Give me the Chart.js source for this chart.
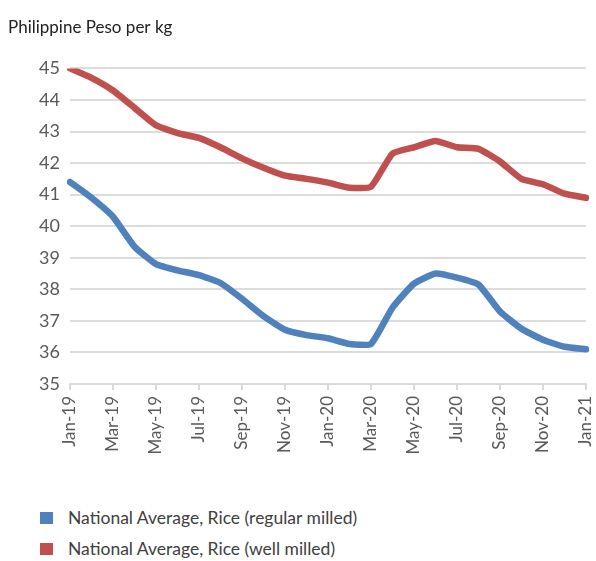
<!DOCTYPE html>
<html>
<head>
<meta charset="utf-8">
<script src="https://cdn.jsdelivr.net/npm/chart.js@4/dist/chart.umd.min.js"></script>
<style>
html,body{margin:0;padding:0;background:#fff;}
#wrap{position:relative;width:596px;height:561px;overflow:hidden;}
#chart{position:absolute;left:0;top:0;}
#legend{position:absolute;left:40px;top:502px;font-family:Lato,"Open Sans",sans-serif;font-size:17.5px;color:#404040;}
#legend div{height:31px;display:flex;align-items:center;}
#legend span.box{display:inline-block;width:13px;height:12px;margin-right:15px;}
</style>
</head>
<body>
<div id="wrap">
<canvas id="chart" width="596" height="480"></canvas>
<div id="legend"></div>
</div>
<script>
// monthly retail prices, Jan 2019 - Jan 2021
var months = ["Jan-19","Feb-19","Mar-19","Apr-19","May-19","Jun-19","Jul-19","Aug-19","Sep-19","Oct-19","Nov-19","Dec-19",
"Jan-20","Feb-20","Mar-20","Apr-20","May-20","Jun-20","Jul-20","Aug-20","Sep-20","Oct-20","Nov-20","Dec-20","Jan-21"];

var regularMilled = [41.4,40.9,40.3,39.35,38.8,38.6,38.45,38.2,37.7,37.15,36.72,36.55,
36.45,36.27,36.27,37.42,38.18,38.5,38.37,38.15,37.3,36.75,36.4,36.18,36.1];

var wellMilled = [45.0,44.7,44.3,43.75,43.2,42.95,42.8,42.5,42.15,41.85,41.6,41.5,
41.38,41.22,41.25,42.3,42.5,42.7,42.5,42.45,42.05,41.5,41.33,41.03,40.9];

var seriesNames = ["National Average, Rice (regular milled)","National Average, Rice (well milled)"];
var seriesColors = ["#4F81BD","#C0504D"];

var yMin = 35, yMax = 45;

var font = "Lato, 'Open Sans', sans-serif";

var chart = new Chart(document.getElementById("chart"),{
type:"line",
data:{
labels:months,
datasets:[
{label:seriesNames[0],data:regularMilled,borderColor:seriesColors[0],backgroundColor:seriesColors[0]},
{label:seriesNames[1],data:wellMilled,borderColor:seriesColors[1],backgroundColor:seriesColors[1]}
]
},
options:{
responsive:false,
animation:false,
layout:{padding:{left:8,right:10,top:0,bottom:0}},
elements:{
line:{borderWidth:6.5,tension:0.15,borderCapStyle:"round",borderJoinStyle:"round"},
point:{radius:0}
},
plugins:{
legend:{display:false},
tooltip:{enabled:false},
title:{
display:true,
text:"Philippine Peso per kg",
align:"start",
color:"#222",
font:{family:font,size:17,weight:"normal"},
padding:{top:17,bottom:31}
}
},
scales:{
x:{
offset:false,
border:{display:true,color:"#d9d9d9",width:2},
grid:{drawOnChartArea:false,drawTicks:true,tickLength:6,color:"#d9d9d9",lineWidth:2},
ticks:{
autoSkip:false,maxRotation:90,minRotation:90,padding:6,
color:"#595959",font:{family:font,size:17},
callback:function(v,i){ return i%2===0 ? this.getLabelForValue(v) : null; }
},
afterFit:function(s){ s.height = 96; s.paddingLeft = 0; s.paddingRight = 0; }
},
y:{
min:yMin,max:yMax,
border:{display:false},
grid:{color:"#dcdcdc",lineWidth:2,drawTicks:false},
ticks:{stepSize:1,padding:10,color:"#595959",font:{family:font,size:18}},
afterFit:function(s){ s.width = 62; }
}
}
}
});

// legend as a plain list, one series per row
var legend = document.getElementById("legend");
chart.data.datasets.forEach(function(ds){
var row = document.createElement("div");
row.innerHTML = '<span class="box" style="background:'+ds.borderColor+'"></span>'+ds.label;
legend.appendChild(row);
});
</script>
</body>
</html>
